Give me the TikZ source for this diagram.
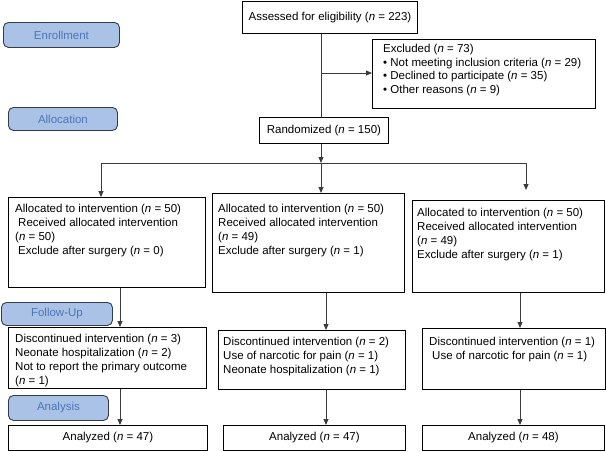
\documentclass[tikz,border=0pt]{standalone}
\usepackage{fontspec}
\setmainfont{Liberation Sans}
\usetikzlibrary{arrows.meta}
\definecolor{stagefill}{RGB}{170,194,230}
\definecolor{stageedge}{RGB}{50,60,78}
\definecolor{stagetext}{RGB}{76,118,182}
\definecolor{flowline}{RGB}{60,60,60}
\newcommand{\nn}{\textit{n}}
\newcommand{\ind}{\hspace*{3pt}}
\tikzset{
  stage/.style={draw=stageedge, fill=stagefill, text=stagetext, rounded corners=5pt,
    line width=0.9pt, inner sep=0pt, anchor=north west},
  box/.style={draw, line width=0.9pt, inner sep=0pt, anchor=north west},
  boxtext/.style={anchor=north west, align=left, inner sep=0pt},
  flow/.style={draw=flowline, line width=0.9pt},
  arr/.style={flow, -{Triangle[length=6pt,width=5pt]}}
}
\begin{document}
\begin{tikzpicture}[x=1pt, y=-1pt, font=\fontsize{11.5}{14}\selectfont]
\useasboundingbox (0,0) rectangle (606,451);
\node[stage, minimum width=116pt, minimum height=25pt] (enroll) at (3,22) {Enrollment};
\node[stage, minimum width=109pt, minimum height=23pt] (alloc) at (8,107) {Allocation};
\node[stage, minimum width=111pt, minimum height=23pt] (followup) at (1,302) {Follow-Up};
\node[stage, minimum width=100pt, minimum height=25pt] (analysis) at (8,395) {Analysis};

\node[box, minimum width=175pt, minimum height=32pt] (assess) at (242,1) {Assessed for eligibility (\nn{} = 223)};
\node[box, minimum width=223pt, minimum height=69pt,
  label={[boxtext, xshift=11pt, yshift=-5pt, font=\fontsize{11.5}{13.5}\selectfont]north west:{Excluded (\nn{} = 73)\\
  \textbullet\ Not meeting inclusion criteria (\nn{} = 29)\\
  \textbullet\ Declined to participate (\nn{} = 35)\\
  \textbullet\ Other reasons (\nn{} = 9)}}] (excl) at (372,39) {};
\node[box, minimum width=129pt, minimum height=26pt] (rand) at (259,117) {Randomized (\nn{} = 150)};

\node[box, minimum width=197pt, minimum height=90pt,
  label={[boxtext, xshift=7pt, yshift=-6.6pt]north west:{Allocated to intervention (\nn{} = 50)\\
  \ind Received allocated intervention\\
  (\nn{} = 50)\\
  \ind Exclude after surgery (\nn{} = 0)}}] (alloc1) at (8,197) {};
\node[box, minimum width=192pt, minimum height=99pt,
  label={[boxtext, xshift=6pt, yshift=-10.6pt]north west:{Allocated to intervention (\nn{} = 50)\\
  Received allocated intervention\\
  (\nn{} = 49)\\
  Exclude after surgery (\nn{} = 1)}}] (alloc2) at (212,193) {};
\node[box, minimum width=192pt, minimum height=92pt,
  label={[boxtext, xshift=5pt, yshift=-7.6pt]north west:{Allocated to intervention (\nn{} = 50)\\
  Received allocated intervention\\
  (\nn{} = 49)\\
  Exclude after surgery (\nn{} = 1)}}] (alloc3) at (412,200) {};

\node[box, minimum width=198pt, minimum height=61pt,
  label={[boxtext, xshift=7pt, yshift=-6.6pt]north west:{Discontinued intervention (\nn{} = 3)\\
  Neonate hospitalization (\nn{} = 2)\\
  Not to report the primary outcome\\
  (\nn{} = 1)}}] (follow1) at (8,327) {};
\node[box, minimum width=187pt, minimum height=59pt,
  label={[boxtext, xshift=5pt, yshift=-6.6pt]north west:{Discontinued intervention (\nn{} = 2)\\
  Use of narcotic for pain (\nn{} = 1)\\
  Neonate hospitalization (\nn{} = 1)}}] (follow2) at (218,330) {};
\node[box, minimum width=183pt, minimum height=61pt,
  label={[boxtext, xshift=7pt, yshift=-8.6pt]north west:{Discontinued intervention (\nn{} = 1)\\
  \ind Use of narcotic for pain (\nn{} = 1)}}] (follow3) at (422,328) {};

\node[box, minimum width=199pt, minimum height=25pt] (result1) at (8,425) {Analyzed (\nn{} = 47)};
\node[box, minimum width=182pt, minimum height=25pt] (result2) at (223,425) {Analyzed (\nn{} = 47)};
\node[box, minimum width=182pt, minimum height=25pt] (result3) at (422,425) {Analyzed (\nn{} = 48)};

\coordinate (split) at (321,73);
\coordinate (fork) at (321,163);
\coordinate (forkL) at (101,163);
\coordinate (forkR) at (526,163);
\coordinate (tipR) at (526,190);

\draw[flow] (assess.south -| split) -- (rand.north -| split);
\draw[arr] (split) -- (split -| excl.west);
\draw[arr] (rand.south -| fork) -- (fork);
\draw[flow] (forkL) -- (forkR);
\draw[arr] (forkL) -- (forkL |- alloc1.north);
\draw[arr] (fork) -- (fork |- alloc2.north);
\draw[arr] (forkR) -- (tipR);
\foreach \i/\x in {1/120,2/326,3/520} {
  \draw[arr] (alloc\i.south -| \x,0) -- (follow\i.north -| \x,0);
  \draw[arr] (follow\i.south -| \x,0) -- (result\i.north -| \x,0);
}
\end{tikzpicture}
\end{document}
